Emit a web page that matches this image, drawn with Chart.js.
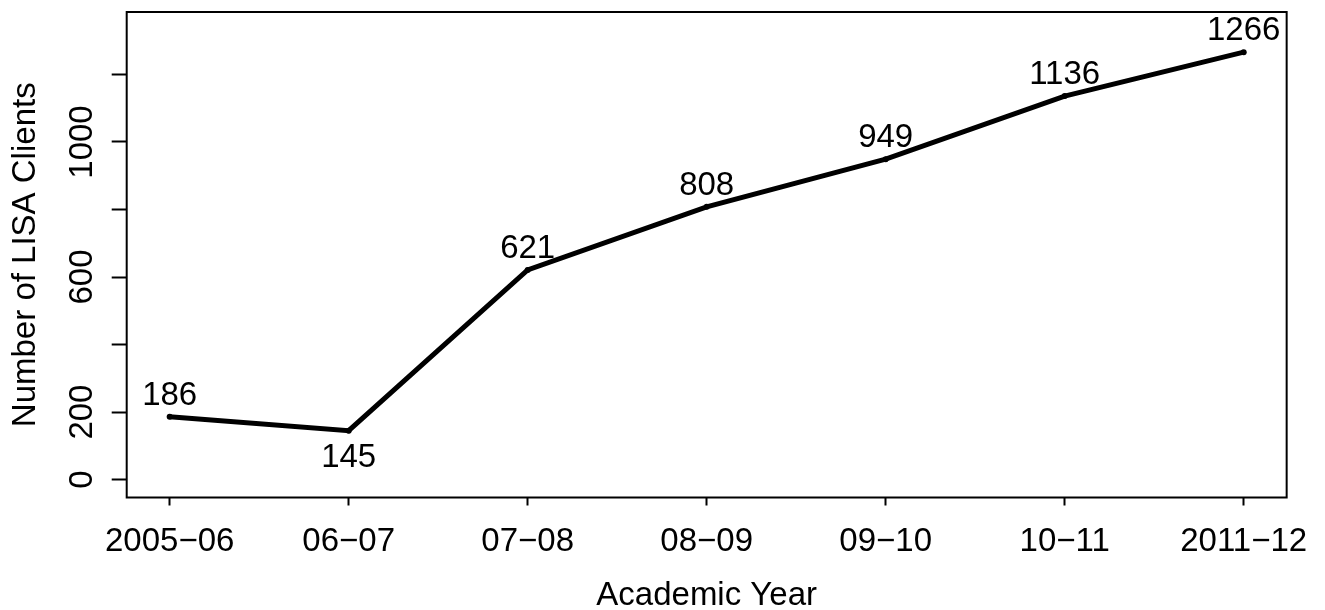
<!DOCTYPE html>
<html>
<head>
<meta charset="utf-8">
<script src="https://cdn.jsdelivr.net/npm/chart.js@4/dist/chart.umd.min.js"></script>
<style>
  html, body { margin: 0; padding: 0; background: #ffffff; }
  #wrap { width: 1325px; height: 610px; }
</style>
</head>
<body>
<div id="wrap"><canvas id="c" width="1325" height="610"></canvas></div>
<script>
// ---- data ----
const categories = ["2005\u221206", "06\u221207", "07\u221208", "08\u221209", "09\u221210", "10\u221211", "2011\u221212"];
const clients = [186, 145, 621, 808, 949, 1136, 1266];
const yTickValues = [0, 200, 400, 600, 800, 1000, 1200];
const yTickLabels = ["0", "200", "", "600", "", "1000", ""];
const labelSide = ["above", "below", "above", "above", "above", "above", "above"];

const FONT = "'Liberation Sans', Arial, Helvetica, sans-serif";

const framePlugin = {
  id: 'frame',
  afterDraw(chart) {
    const a = chart.chartArea;
    const ctx = chart.ctx;
    ctx.save();
    ctx.strokeStyle = '#000';
    ctx.lineWidth = 2;
    ctx.strokeRect(a.left, a.top, a.right - a.left, a.bottom - a.top);
    ctx.restore();
  }
};

const valueLabels = {
  id: 'valueLabels',
  afterDatasetsDraw(chart) {
    const ctx = chart.ctx;
    const meta = chart.getDatasetMeta(0);
    ctx.save();
    ctx.font = "33px " + FONT;
    ctx.fillStyle = '#000';
    ctx.textAlign = 'center';
    ctx.textBaseline = 'alphabetic';
    meta.data.forEach((pt, i) => {
      const txt = String(clients[i]);
      if (labelSide[i] === 'below') {
        ctx.fillText(txt, pt.x, pt.y + 36);
      } else {
        ctx.fillText(txt, pt.x, pt.y - 12);
      }
    });
    ctx.restore();
  }
};

new Chart(document.getElementById('c'), {
  type: 'line',
  data: {
    datasets: [{
      data: clients.map((v, i) => ({ x: i, y: v })),
      borderColor: '#000',
      borderWidth: 5,
      tension: 0,
      pointRadius: 3,
      pointBackgroundColor: '#000',
      pointBorderWidth: 0,
      fill: false
    }]
  },
  options: {
    responsive: false,
    devicePixelRatio: 1,
    animation: false,
    layout: { padding: { top: 10.7, right: 36, left: 0, bottom: 0 } },
    plugins: { legend: { display: false }, tooltip: { enabled: false } },
    scales: {
      x: {
        type: 'linear',
        min: -0.24,
        max: 6.24,
        afterBuildTicks(scale) { scale.ticks = categories.map((c, i) => ({ value: i })); },
        afterFit(scale) { scale.height = 112.5; },
        ticks: {
          autoSkip: false,
          maxRotation: 0,
          minRotation: 0,
          padding: 16.5,
          color: '#000',
          font: { family: FONT, size: 33 },
          callback: (v) => categories[v]
        },
        grid: { drawOnChartArea: false, drawTicks: true, tickLength: 8, tickColor: '#000', tickWidth: 2 },
        border: { display: false },
        title: {
          display: true,
          text: 'Academic Year',
          color: '#000',
          font: { family: FONT, size: 33, lineHeight: 0.8 },
          padding: { top: 0, bottom: 1 }
        }
      },
      y: {
        type: 'linear',
        min: -53,
        max: 1385,
        afterBuildTicks(scale) { scale.ticks = yTickValues.map(v => ({ value: v })); },
        afterFit(scale) { scale.width = 126.7; },
        ticks: {
          autoSkip: false,
          minRotation: 90,
          maxRotation: 90,
          crossAlign: 'center',
          padding: -7.8,
          color: '#000',
          font: { family: FONT, size: 33 },
          callback: (v) => { const k = yTickValues.indexOf(v); return k >= 0 ? yTickLabels[k] : ''; }
        },
        grid: { drawOnChartArea: false, drawTicks: true, tickLength: 15, tickColor: '#000', tickWidth: 2 },
        border: { display: false },
        title: {
          display: true,
          text: 'Number of LISA Clients',
          color: '#000',
          font: { family: FONT, size: 33, lineHeight: 1.2 },
          padding: { top: 6, bottom: 0 }
        }
      }
    }
  },
  plugins: [framePlugin, valueLabels]
});
</script>
</body>
</html>
